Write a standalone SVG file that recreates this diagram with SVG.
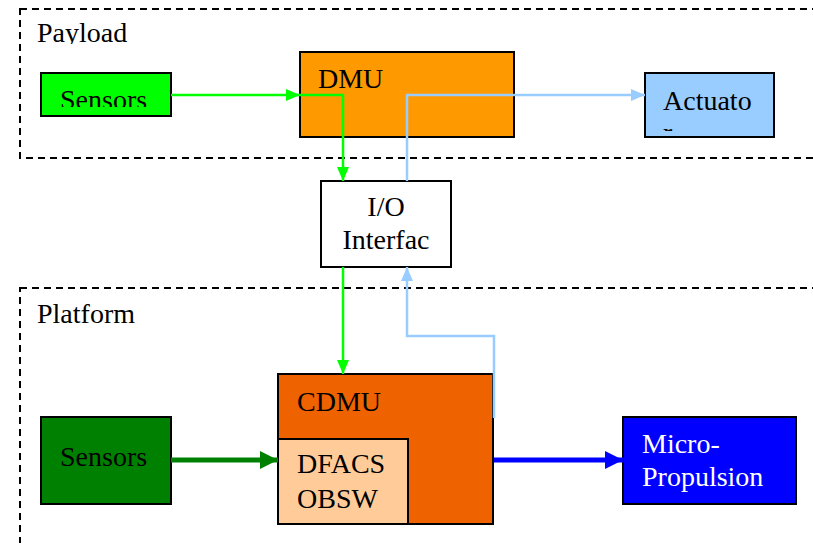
<svg xmlns="http://www.w3.org/2000/svg" width="813" height="543" viewBox="0 0 813 543">
  <style>
    .lbl { font-family: "Liberation Serif", "Times New Roman", serif; font-size: 28px; fill: #000; }
    .box { stroke: #000; stroke-width: 2; }
    .zone { fill: none; stroke: #000; stroke-width: 2; stroke-dasharray: 7 5; }
  </style>
  <defs>
    <marker id="ahGreen" markerWidth="14" markerHeight="12" refX="14" refY="6" orient="auto" markerUnits="userSpaceOnUse">
      <path d="M0,0 L14,6 L0,12 Z" fill="#00ff00"/>
    </marker>
    <marker id="ahLight" markerWidth="14" markerHeight="12" refX="14" refY="6" orient="auto" markerUnits="userSpaceOnUse">
      <path d="M0,0 L14,6 L0,12 Z" fill="#99ccff"/>
    </marker>
    <marker id="ahDark" markerWidth="18" markerHeight="18" refX="18" refY="9" orient="auto" markerUnits="userSpaceOnUse">
      <path d="M0,0 L18,9 L0,18 Z" fill="#008000"/>
    </marker>
    <marker id="ahBlue" markerWidth="18" markerHeight="18" refX="18" refY="9" orient="auto" markerUnits="userSpaceOnUse">
      <path d="M0,0 L18,9 L0,18 Z" fill="#0000ff"/>
    </marker>
    <clipPath id="clipPayload"><rect x="30" y="10" width="120" height="34"/></clipPath>
    <clipPath id="clipSensTop"><rect x="42" y="74" width="128" height="33"/></clipPath>
    <clipPath id="clipAct"><rect x="646" y="74" width="128" height="57"/></clipPath>
  </defs>

  <rect width="813" height="543" fill="#fff"/>

  <!-- zones -->
  <g id="payload">
    <rect class="zone" x="20" y="9" width="820" height="149"/>
    <text class="lbl" x="37" y="42" clip-path="url(#clipPayload)">Payload</text>
  </g>
  <g id="platform">
    <rect class="zone" x="20" y="288" width="820" height="280"/>
    <text class="lbl" x="37" y="323">Platform</text>
  </g>

  <!-- nodes -->
  <g id="payload-sensors">
    <rect class="box" x="41" y="73" width="130" height="43" fill="#00ff00"/>
    <text class="lbl" x="60" y="108.5" clip-path="url(#clipSensTop)">Sensors</text>
  </g>
  <g id="dmu">
    <rect class="box" x="300" y="52" width="214" height="85" fill="#ff9900"/>
    <text class="lbl" x="318" y="88">DMU</text>
  </g>
  <g id="actuator">
    <rect class="box" x="645" y="73" width="129" height="64" fill="#99ccff"/>
    <g clip-path="url(#clipAct)">
      <text class="lbl" x="663" y="110">Actuato</text>
      <text class="lbl" x="663" y="142">r</text>
    </g>
  </g>
  <g id="io-interface">
    <rect class="box" x="321" y="181" width="130" height="86" fill="#fff"/>
    <text class="lbl" x="386" y="216" text-anchor="middle">I/O</text>
    <text class="lbl" x="386" y="249" text-anchor="middle">Interfac</text>
  </g>
  <g id="platform-sensors">
    <rect class="box" x="41" y="417" width="130" height="87" fill="#008000"/>
    <text class="lbl" x="60" y="466">Sensors</text>
  </g>
  <g id="cdmu">
    <rect class="box" x="278" y="374" width="215" height="150" fill="#ee6200"/>
    <text class="lbl" x="297" y="411">CDMU</text>
  </g>
  <g id="dfacs-obsw">
    <rect class="box" x="278" y="439" width="130" height="85" fill="#ffcc99"/>
    <text class="lbl" x="297" y="473">DFACS</text>
    <text class="lbl" x="297" y="508">OBSW</text>
  </g>
  <g id="micro-propulsion">
    <rect class="box" x="623" y="417" width="173" height="87" fill="#0000ff"/>
    <text class="lbl" x="642" y="453" style="fill:#fff">Micro-</text>
    <text class="lbl" x="642" y="486" style="fill:#fff">Propulsion</text>
  </g>

  <!-- connectors -->
  <g id="connectors" fill="none">
    <line x1="171" y1="95" x2="300" y2="95" stroke="#00ff00" stroke-width="2.5" marker-end="url(#ahGreen)"/>
    <polyline points="300,95 343,95 343,181" stroke="#00ff00" stroke-width="2.5" marker-end="url(#ahGreen)"/>
    <polyline points="407,181 407,95 645,95" stroke="#99ccff" stroke-width="2.5" marker-end="url(#ahLight)"/>
    <line x1="343" y1="267" x2="343" y2="374" stroke="#00ff00" stroke-width="2.5" marker-end="url(#ahGreen)"/>
    <polyline points="494,418 494,336 407,336 407,267" stroke="#99ccff" stroke-width="2.5" marker-end="url(#ahLight)"/>
    <line x1="171" y1="460" x2="278" y2="460" stroke="#008000" stroke-width="5" marker-end="url(#ahDark)"/>
    <line x1="494" y1="460" x2="623" y2="460" stroke="#0000ff" stroke-width="5" marker-end="url(#ahBlue)"/>
  </g>
</svg>
